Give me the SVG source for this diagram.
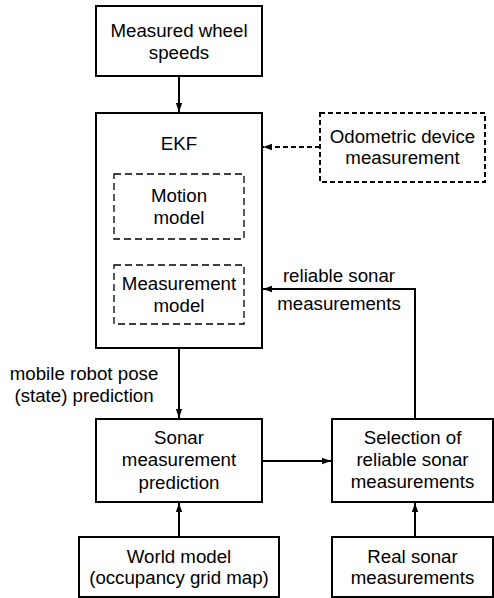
<svg xmlns="http://www.w3.org/2000/svg" width="494" height="598" viewBox="0 0 494 598">
<defs>
<marker id="ah" viewBox="0 0 10 10" refX="10" refY="5" markerWidth="9" markerHeight="9" markerUnits="userSpaceOnUse" orient="auto">
<path d="M0,1.5 L10,5 L0,8.5 Z" fill="#000"/>
</marker>
<style>
.box{fill:#fff;stroke:#000;stroke-width:2}
.dbox{fill:none;stroke:#000;stroke-width:2;stroke-dasharray:5 3}
.ibox{fill:none;stroke:#000;stroke-width:1.3;stroke-dasharray:7 4}
.t{font-family:"Liberation Sans",Arial,sans-serif;font-size:18.7px;fill:#000;text-anchor:middle}
.c{fill:none;stroke:#000;stroke-width:2}
.cd{fill:none;stroke:#000;stroke-width:2;stroke-dasharray:5 3}
</style>
</defs>
<rect width="494" height="598" fill="#fff"/>
<g id="connectors">
<line class="c" x1="179" y1="76" x2="179" y2="112" marker-end="url(#ah)"/>
<line class="cd" x1="320" y1="147" x2="263" y2="147" marker-end="url(#ah)"/>
<polyline class="c" points="415,419 415,289 263,289" marker-end="url(#ah)"/>
<line class="c" x1="179" y1="348" x2="179" y2="418" marker-end="url(#ah)"/>
<line class="c" x1="262" y1="461" x2="331" y2="461" marker-end="url(#ah)"/>
<line class="c" x1="179" y1="537" x2="179" y2="503" marker-end="url(#ah)"/>
<line class="c" x1="415" y1="537" x2="415" y2="503" marker-end="url(#ah)"/>
<text class="t" x="339" y="281.5">reliable sonar</text>
<text class="t" x="339" y="309.5">measurements</text>
<text class="t" x="84" y="379.5">mobile robot pose</text>
<text class="t" x="84" y="401.5">(state) prediction</text>
</g>
<g id="wheel">
<rect class="box" x="96" y="6" width="166" height="70"/>
<text class="t" x="179" y="36.5">Measured wheel</text>
<text class="t" x="179" y="58.5">speeds</text>
</g>
<g id="ekf">
<rect class="box" x="96" y="113" width="166" height="235"/>
<text class="t" x="179" y="149.5">EKF</text>
</g>
<g id="motion">
<rect class="ibox" x="114" y="174" width="130" height="65"/>
<text class="t" x="179" y="201.5">Motion</text>
<text class="t" x="179" y="223.5">model</text>
</g>
<g id="measmodel">
<rect class="ibox" x="114" y="265" width="130" height="59"/>
<text class="t" x="179" y="289.5">Measurement</text>
<text class="t" x="179" y="311.5">model</text>
</g>
<g id="odo">
<rect class="dbox" x="320" y="113" width="165" height="69"/>
<text class="t" x="402.5" y="142.5">Odometric device</text>
<text class="t" x="402.5" y="164">measurement</text>
</g>
<g id="sonarpred">
<rect class="box" x="96" y="419" width="166" height="83"/>
<text class="t" x="179" y="443.5">Sonar</text>
<text class="t" x="179" y="465.5">measurement</text>
<text class="t" x="179" y="488.5">prediction</text>
</g>
<g id="selection">
<rect class="box" x="332" y="419" width="161" height="83"/>
<text class="t" x="412.5" y="443.5">Selection of</text>
<text class="t" x="412.5" y="465.5">reliable sonar</text>
<text class="t" x="412.5" y="487.5">measurements</text>
</g>
<g id="world">
<rect class="box" x="79" y="537" width="200" height="60"/>
<text class="t" x="179" y="562.5">World model</text>
<text class="t" x="179" y="583.5">(occupancy grid map)</text>
</g>
<g id="realsonar">
<rect class="box" x="332" y="537" width="161" height="60"/>
<text class="t" x="412.5" y="562.5">Real sonar</text>
<text class="t" x="412.5" y="583.5">measurements</text>
</g>
</svg>
